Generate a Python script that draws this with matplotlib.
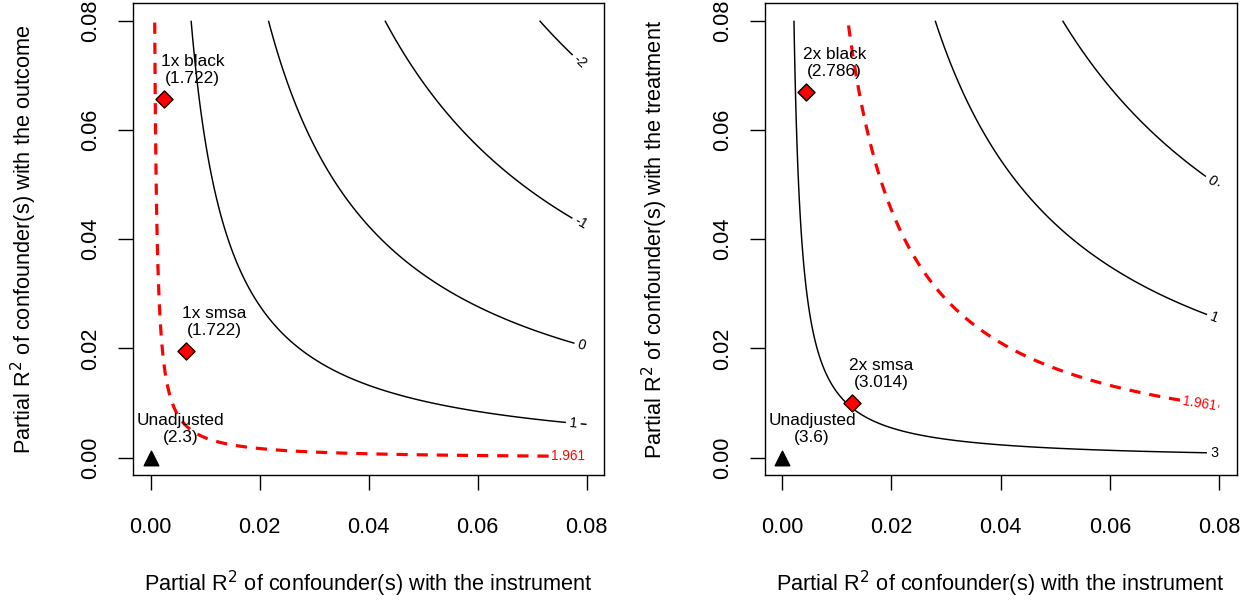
import numpy as np
import matplotlib
matplotlib.use("Agg")
import matplotlib.pyplot as plt

plt.rcParams['font.family'] = ['Liberation Sans', 'DejaVu Sans']

# ---- data ----
dof = 2994
lim = 0.08
crit = 1.961

left_t0 = 2.3
left_levels = [-2, -1, 0, 1]
left_label_pos = [(0.0793, 0.0731), (0.0793, 0.0436), (0.0792, 0.0210), (0.0776, 0.0067)]
left_crit_pos = (0.0766, 0.0004)
left_points_x = [0.0024, 0.0064]
left_points_y = [0.0656, 0.0196]
left_points_lab = ["1x black\n(1.722)", "1x smsa\n(1.722)"]
left_unadj = "Unadjusted\n(2.3)"

right_t0 = 3.6
right_levels = [0, 1, 3]
right_label_pos = [(0.0793, 0.0516), (0.0793, 0.0264), (0.0791, 0.0010)]
right_crit_pos = (0.0764, 0.0104)
right_points_x = [0.0043, 0.0128]
right_points_y = [0.0670, 0.0100]
right_points_lab = ["2x black\n(2.786)", "2x smsa\n(3.014)"]
right_unadj = "Unadjusted\n(3.6)"

xlabel = "Partial R$^2$ of confounder(s) with the instrument"
ylabels = ["Partial R$^2$ of confounder(s) with the outcome",
           "Partial R$^2$ of confounder(s) with the treatment"]
ticks = [0.00, 0.02, 0.04, 0.06, 0.08]
tick_labels = ["0.00", "0.02", "0.04", "0.06", "0.08"]


def adj_t(t0, x, y):
    return (t0 * np.sqrt(1 - x) - np.sqrt(dof * x * y)) / np.sqrt(1 - y)


FS = 15.7      # axis text
FS_ANN = 12.4  # point labels
FS_CL = 10.3   # black contour labels
FS_CR = 9.8    # red contour label
W, H = 1252, 601
fig = plt.figure(figsize=(W / 100, H / 100), dpi=100)

boxes = [(133.3, 604.0), (764.7, 1236.7)]
top_px, bot_px = 3.2, 475.2

g = np.linspace(0, lim, 801)
X, Y = np.meshgrid(g, g)

panels = [
    (left_t0, left_levels, left_label_pos, left_crit_pos, left_points_x, left_points_y, left_points_lab, left_unadj),
    (right_t0, right_levels, right_label_pos, right_crit_pos, right_points_x, right_points_y, right_points_lab, right_unadj),
]

for i, (t0, levels, lpos, cpos, px, py, plab, unadj) in enumerate(panels):
    x0, x1 = boxes[i]
    ax = fig.add_axes([x0 / W, 1 - bot_px / H, (x1 - x0) / W, (bot_px - top_px) / H])
    Z = adj_t(t0, X, Y)
    cs = ax.contour(X, Y, Z, levels=levels, colors='black', linewidths=1.05, linestyles='solid')
    ax.clabel(cs, levels, inline=True, inline_spacing=4, fontsize=FS_CL, manual=lpos,
              fmt=lambda v: f"{v:g}")
    cr = ax.contour(X, Y, Z, levels=[crit], colors='red', linewidths=2.3, linestyles='dashed')
    cr.set_linestyle([(0, (3.5, 2.8))])
    ax.clabel(cr, [crit], inline=True, inline_spacing=4, fontsize=FS_CR, manual=[cpos],
              fmt=lambda v: f"{v:.3f}")

    # unadjusted point
    ax.scatter([0], [0], marker='^', s=110, color='black', zorder=5)
    ax.annotate(unadj, (0, 0), xytext=(30, 29), textcoords='offset pixels',
                ha='center', va='center', fontsize=FS_ANN, linespacing=1.17, zorder=6)
    ax.scatter(px, py, marker='D', s=75, facecolor='red', edgecolor='black', linewidth=1.0, zorder=5)
    for xx, yy, lab in zip(px, py, plab):
        ax.annotate(lab, (xx, yy), xytext=(29, 29), textcoords='offset pixels',
                    ha='center', va='center', fontsize=FS_ANN, linespacing=1.17, zorder=6)

    ext = lim * 0.04
    ax.set_xlim(-ext, lim + ext)
    ax.set_ylim(-ext, lim + ext)
    ax.set_xticks(ticks)
    ax.set_xticklabels(tick_labels, fontsize=FS)
    ax.set_yticks(ticks)
    ax.set_yticklabels(tick_labels, fontsize=FS, rotation=90, va='center')
    ax.tick_params(length=11, width=1.0)
    ax.tick_params(axis='x', pad=19)
    ax.tick_params(axis='y', pad=11.9)
    for s in ax.spines.values():
        s.set_linewidth(1.0)

    cx = (x0 + x1) / 2 / W
    fig.text(cx, 1 - 591 / H, xlabel, fontsize=FS, ha='center', va='baseline')
    fig.text((24 + (x0 - 133.3)) / W, 1 - (top_px + bot_px) / 2 / H, ylabels[i], fontsize=FS,
             rotation=90, ha='center', va='center')

fig.savefig("out.png", dpi=100)
